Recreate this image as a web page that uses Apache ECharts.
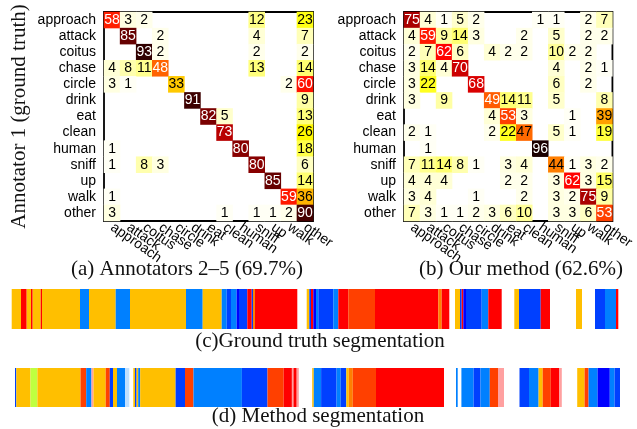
<!DOCTYPE html>
<html><head><meta charset="utf-8">
<script src="https://cdn.jsdelivr.net/npm/echarts@6/dist/echarts.min.js"></script>
<style>html,body{margin:0;padding:0;background:#fff}#c{width:637px;height:429px}</style>
</head><body><div id="c"></div>
<script>
const classes = ['approach','attack','coitus','chase','circle','drink','eat','clean','human','sniff','up','walk','other'];

const annotatorMatrix = [
 [58,3,2,0,0,0,0,0,0,12,0,0,23],
 [0,85,0,2,0,0,0,0,0,4,0,0,7],
 [0,0,93,2,0,0,0,0,0,2,0,0,2],
 [4,8,11,48,0,0,0,0,0,13,0,0,14],
 [3,1,0,0,33,0,0,0,0,0,0,2,60],
 [0,0,0,0,0,91,0,0,0,0,0,0,9],
 [0,0,0,0,0,0,82,5,0,0,0,0,13],
 [0,0,0,0,0,0,0,73,0,0,0,0,26],
 [1,0,0,0,0,0,0,0,80,0,0,0,18],
 [1,0,8,3,0,0,0,0,0,80,0,0,6],
 [0,0,0,0,0,0,0,0,0,0,85,0,14],
 [1,0,0,0,0,0,0,0,0,0,0,59,36],
 [3,0,0,0,0,0,0,1,0,1,1,2,90]
];

const methodMatrix = [
 [75,4,1,5,2,0,0,0,1,1,0,2,7],
 [4,59,9,14,3,0,0,2,0,5,0,2,2],
 [2,7,62,6,0,4,2,2,0,10,2,2,0],
 [3,14,4,70,0,0,0,0,0,4,0,2,1],
 [3,22,0,0,68,0,0,0,0,6,0,2,0],
 [3,0,9,0,0,49,14,11,0,5,0,0,8],
 [0,0,0,0,0,4,53,3,0,0,1,0,39],
 [2,1,0,0,0,2,22,47,0,5,1,0,19],
 [0,1,0,0,0,0,0,0,96,0,0,0,0],
 [7,11,14,8,1,0,3,4,0,44,1,3,2],
 [4,4,4,0,0,0,2,2,0,3,62,3,15],
 [3,4,0,0,1,0,0,2,0,3,2,75,9],
 [7,3,1,1,2,3,6,10,0,3,3,6,53]
];

const captions = ['(a) Annotators 2\u20135 (69.7%)','(b) Our method (62.6%)','(c)Ground truth segmentation','(d) Method segmentation'];
const yAxisTitle = 'Annotator 1 (ground truth)';

// segmentation timelines: [start, end, colour key]
const groundTruthSegments = [
 [11.7,21,'Y'],[21,26.7,'R'],[26.7,31,'Y'],[31,32.7,'R'],[32.7,40.7,'Y'],[40.7,42,'R'],[42,80,'Y'],[80,89,'B'],
 [89,115.7,'Y'],[115.7,130,'B'],[130,186,'Y'],[186,202.7,'B'],[202.7,221.7,'Y'],[221.7,226.7,'B'],[226.7,231,'DB'],
 [231,236.7,'B'],[236.7,239,'N'],[239,247.3,'DB'],[247.3,251.7,'R'],[251.7,253,'DB'],[253,255,'O'],[255,297.3,'R'],
 [306.7,309.3,'Y'],[309.3,311,'DB'],[311,313.3,'R'],[313.3,316,'N'],[316,318.3,'B'],[318.3,333.3,'DB'],[333.3,338.3,'B'],
 [338.3,348.3,'R'],[348.3,375,'OR'],[375,438.3,'R'],[438.3,441.7,'O'],[441.7,449.3,'R'],
 [455,460,'Y'],[460,461.7,'DB'],[461.7,463.3,'R'],[463.3,466,'N'],[466,481.7,'DB'],[481.7,488.3,'B'],[488.3,501.7,'R'],
 [514.3,519,'Y'],[519,540.7,'DB'],[540.7,550,'R'],
 [576,582,'Y'],
 [595,605,'DB'],[605,616,'B'],[616,618.3,'R']
];
const methodSegments = [
 [15,16.3,'DB'],[16.3,30.5,'Y'],[30.5,37.4,'G'],[37.4,80.5,'Y'],[80.5,86.2,'OR'],[86.2,91.5,'B'],[91.5,93.5,'PK'],
 [93.5,105.7,'Y'],[105.7,109.8,'OR'],[109.8,113,'DB'],[113,117,'Y'],[117,125.2,'B'],[125.2,129.3,'PB'],
 [133.3,135,'Y'],[135,136.6,'DB'],[136.6,138.2,'Y'],[138.2,140.2,'B'],[140.2,175.6,'Y'],[175.6,185,'DB'],[185,193.5,'OR'],
 [193.5,241.9,'B'],[241.9,267.5,'DB'],[267.5,283.7,'OR'],[283.7,291.9,'R'],[291.9,293.5,'PK'],[293.5,296.7,'R'],[296.7,298.8,'PK'],
 [312.2,313.8,'Y'],[313.8,321.1,'B'],[321.1,336.6,'DB'],[336.6,340.7,'B'],[340.7,346.3,'DB'],[346.3,348.8,'Y'],[348.8,352.8,'O'],
 [352.8,376,'OR'],[376,444,'R'],
 [456,457.7,'B'],[461.4,473.6,'B'],[473.6,480.5,'DB'],[480.5,489.8,'B'],[489.8,498,'OR'],[498,504,'PK'],
 [519.5,529,'DB'],[529,538.6,'B'],[538.6,542.7,'Y'],[542.7,550.8,'OR'],[550.8,559,'R'],[559,561.8,'PK'],
 [577.2,584.6,'Y'],[584.6,588.6,'OR'],[588.6,597.6,'B'],[597.6,609.8,'N'],[609.8,614.6,'B'],[614.6,620,'DB']
];
const segPalette = {Y:'#FFBF00',B:'#0080FF',DB:'#0040FF',N:'#0000FF',R:'#FF0000',OR:'#FF4000',O:'#FF8000',G:'#BFFF40',PB:'#BFDFFF',PK:'#FFA0A0'};

const sans = '"Liberation Sans", Arial, Helvetica, sans-serif';
const serif = '"Liberation Serif", "Times New Roman", serif';

function heatData(m){
  const out = [];
  m.forEach((row, r) => row.forEach((v, c) => {
    if (v > 0) out.push({value:[c, r, v], label:{color: v >= 48 ? '#ffffff' : '#000000'}});
  }));
  return out;
}
function segData(s){
  return s.map(d => ({value:[d[0], d[1]], itemStyle:{color: segPalette[d[2]]}}));
}
function renderSeg(params, api){
  const a = api.coord([api.value(0), 1]);
  const b = api.coord([api.value(1), 0]);
  return {type:'rect', shape:{x:a[0], y:a[1], width:b[0]-a[0], height:b[1]-a[1]}, style:{fill: api.visual('color')}};
}

const matGrid = (left) => ({left:left, top:12, width:209, height:209, show:true, borderColor:'#000', borderWidth:1.8, backgroundColor:'#fff', z:1});
const xCat = (gi) => ({type:'category', gridIndex:gi, data:classes, axisLine:{show:false}, axisTick:{show:false}, splitLine:{show:false},
  axisLabel:{interval:0, rotate:-35, margin:5, fontSize:14, fontFamily:sans, color:'#000'}});
const yCat = (gi) => ({type:'category', gridIndex:gi, data:classes, inverse:true, axisLine:{show:false}, axisTick:{show:false}, splitLine:{show:false},
  axisLabel:{interval:0, margin:8, fontSize:14, fontFamily:sans, color:'#000'}});
const heatLabel = {show:true, fontSize:14, fontFamily:sans, formatter: p => String(p.value[2])};

const option = {
  animation:false,
  backgroundColor:'#fff',
  grid:[matGrid(104), matGrid(404),
        {left:0, right:0, top:289, height:40},
        {left:0, right:0, top:368, height:39}],
  xAxis:[xCat(0), xCat(1),
    {type:'value', gridIndex:2, min:0, max:637, show:false},
    {type:'value', gridIndex:3, min:0, max:637, show:false}],
  yAxis:[Object.assign(yCat(0), {name:yAxisTitle, nameLocation:'middle', nameRotate:90, nameGap:74,
           nameTextStyle:{fontSize:21, fontFamily:serif, color:'#111'}}),
         yCat(1),
    {type:'value', gridIndex:2, min:0, max:1, show:false},
    {type:'value', gridIndex:3, min:0, max:1, show:false}],
  visualMap:[{show:false, type:'continuous', min:0, max:100, seriesIndex:[0,1], dimension:2,
    inRange:{color:['#ffffff','#ffff80','#ffff00','#ffaa00','#ff5500','#ff0000','#aa0000','#550000','#000000']}}],
  series:[
    {type:'heatmap', xAxisIndex:0, yAxisIndex:0, data:heatData(annotatorMatrix), label:heatLabel, itemStyle:{borderWidth:0}, emphasis:{disabled:true}},
    {type:'heatmap', xAxisIndex:1, yAxisIndex:1, data:heatData(methodMatrix), label:heatLabel, itemStyle:{borderWidth:0}, emphasis:{disabled:true}},
    {type:'custom', xAxisIndex:2, yAxisIndex:2, renderItem:renderSeg, data:segData(groundTruthSegments), encode:{x:[0,1]}, clip:false},
    {type:'custom', xAxisIndex:3, yAxisIndex:3, renderItem:renderSeg, data:segData(methodSegments), encode:{x:[0,1]}, clip:false}
  ],
  graphic:[
    {type:'text', x:187, y:269, style:{text:captions[0], font:'21px '+serif, fill:'#111', textAlign:'center', textVerticalAlign:'middle'}},
    {type:'text', x:521, y:269, style:{text:captions[1], font:'21px '+serif, fill:'#111', textAlign:'center', textVerticalAlign:'middle'}},
    {type:'text', x:320, y:341, style:{text:captions[2], font:'21px '+serif, fill:'#111', textAlign:'center', textVerticalAlign:'middle'}},
    {type:'text', x:318, y:416, style:{text:captions[3], font:'21px '+serif, fill:'#111', textAlign:'center', textVerticalAlign:'middle'}}
  ]
};
const chart = echarts.init(document.getElementById('c'), null, {renderer:'canvas'});
chart.setOption(option);
</script></body></html>
